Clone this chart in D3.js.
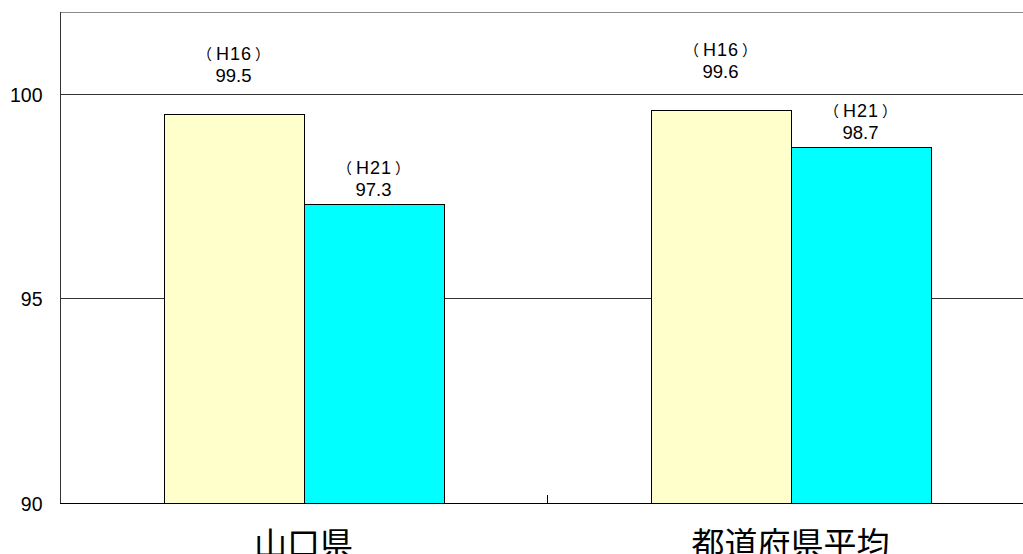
<!DOCTYPE html>
<html>
<head>
<meta charset="utf-8">
<script src="https://cdn.jsdelivr.net/npm/d3@7/dist/d3.min.js"></script>
<style>
  html, body { margin: 0; padding: 0; background: #fff; overflow: hidden; }
  svg { display: block; }
</style>
</head>
<body>
<svg id="chart" width="1023" height="554"></svg>
<script>
// Regions compared on the x axis
const categories = ["山口県", "都道府県平均"];
// Survey rounds and their values per region
const seriesNames = ["H16", "H21"];
const valuesH16 = [99.5, 99.6];
const valuesH21 = [97.3, 98.7];
const seriesColors = ["#FFFFCC", "#00FFFF"];
// Value axis ticks
const yTicks = [90, 95, 100];

(function () {
const svg = d3.select("#chart");
const W = 1023;
const plotLeft = 60, plotBottom = 503, plotTop = 12;

const y = d3.scaleLinear().domain([90, 102]).range([plotBottom, plotTop]);
const x0 = d3.scaleBand().domain(categories).range([plotLeft, plotLeft + 487 * 2]).paddingInner(0).paddingOuter(0);
const x1 = d3.scaleBand().domain(seriesNames).range([0, x0.bandwidth()]).paddingInner(0).paddingOuter(0.74);

const font = "'Liberation Sans', Arial, sans-serif";
const cjk = "'Noto Sans CJK JP', sans-serif";

// Top frame line
svg.append("line")
  .attr("x1", plotLeft).attr("x2", W)
  .attr("y1", Math.round(y(102)) + 0.5).attr("y2", Math.round(y(102)) + 0.5)
  .attr("stroke", "#8a8a8a").attr("stroke-width", 1);

// Horizontal grid at each tick above the base
svg.append("g")
  .selectAll("line")
  .data(yTicks.filter(t => t > 90))
  .join("line")
  .attr("x1", plotLeft).attr("x2", W)
  .attr("y1", d => Math.round(y(d)) + 0.5).attr("y2", d => Math.round(y(d)) + 0.5)
  .attr("stroke", "#333").attr("stroke-width", 1);

// Bars
const data = categories.map((c, i) => ({
  cat: c,
  vals: [
    { s: "H16", v: valuesH16[i], color: seriesColors[0] },
    { s: "H21", v: valuesH21[i], color: seriesColors[1] }
  ]
}));

const groups = svg.append("g").selectAll("g")
  .data(data)
  .join("g")
  .attr("transform", d => `translate(${x0(d.cat)},0)`);

groups.selectAll("rect")
  .data(d => d.vals)
  .join("rect")
  .attr("x", d => Math.round(x1(d.s)) + 0.5)
  .attr("y", d => Math.round(y(d.v)) + 0.5)
  .attr("width", Math.round(x1.bandwidth()))
  .attr("height", d => plotBottom - Math.round(y(d.v)))
  .attr("fill", d => d.color)
  .attr("stroke", "#000")
  .attr("stroke-width", 1);

// Value labels: round name above the value
const labelLift = { H16: 32, H21: 8 };
const lbl = groups.selectAll("g.lbl")
  .data(d => d.vals)
  .join("g")
  .attr("class", "lbl")
  .attr("transform", d => `translate(${x1(d.s) + x1.bandwidth() / 2},${y(d.v) - labelLift[d.s]})`);

const head = lbl.append("text")
  .attr("text-anchor", "middle")
  .attr("y", -22)
  .attr("font-family", font)
  .attr("font-size", 18)
  .attr("fill", "#000");
head.append("tspan").attr("font-family", cjk).attr("font-size", 15).text("（");
head.append("tspan").attr("dx", 4).attr("letter-spacing", 1).text(d => d.s);
head.append("tspan").attr("dx", 3).attr("font-family", cjk).attr("font-size", 15).text("）");

lbl.append("text")
  .attr("text-anchor", "middle")
  .attr("y", 0)
  .attr("font-family", font)
  .attr("font-size", 18.5)
  .attr("fill", "#000")
  .text(d => d.v.toFixed(1));

// Left axis
const yAxis = d3.axisLeft(y).tickValues(yTicks).tickSize(0).tickPadding(18);
const ga = svg.append("g").attr("transform", `translate(${plotLeft + 0.5},0)`).call(yAxis);
ga.select(".domain").attr("d", `M0,${Math.round(y(102))}V${plotBottom}`).attr("stroke", "#333");
ga.selectAll("text").attr("font-family", font).attr("font-size", 19.5).attr("fill", "#000").attr("dy", "0.38em");

// Bottom axis with a divider between regions
const gx = svg.append("g");
gx.append("line")
  .attr("x1", plotLeft).attr("x2", W)
  .attr("y1", plotBottom + 0.5).attr("y2", plotBottom + 0.5)
  .attr("stroke", "#000").attr("stroke-width", 1.2);
gx.selectAll("line.div")
  .data(categories.slice(1))
  .join("line")
  .attr("class", "div")
  .attr("x1", d => Math.round(x0(d)) + 0.5).attr("x2", d => Math.round(x0(d)) + 0.5)
  .attr("y1", plotBottom - 8).attr("y2", plotBottom)
  .attr("stroke", "#000").attr("stroke-width", 1);

gx.selectAll("text.cat")
  .data(categories)
  .join("text")
  .attr("class", "cat")
  .attr("x", d => x0(d) + x0.bandwidth() / 2)
  .attr("y", 556)
  .attr("text-anchor", "middle")
  .attr("font-family", cjk)
  .attr("font-size", 33)
  .attr("fill", "#000")
  .text(d => d);
})();
</script>
</body>
</html>
